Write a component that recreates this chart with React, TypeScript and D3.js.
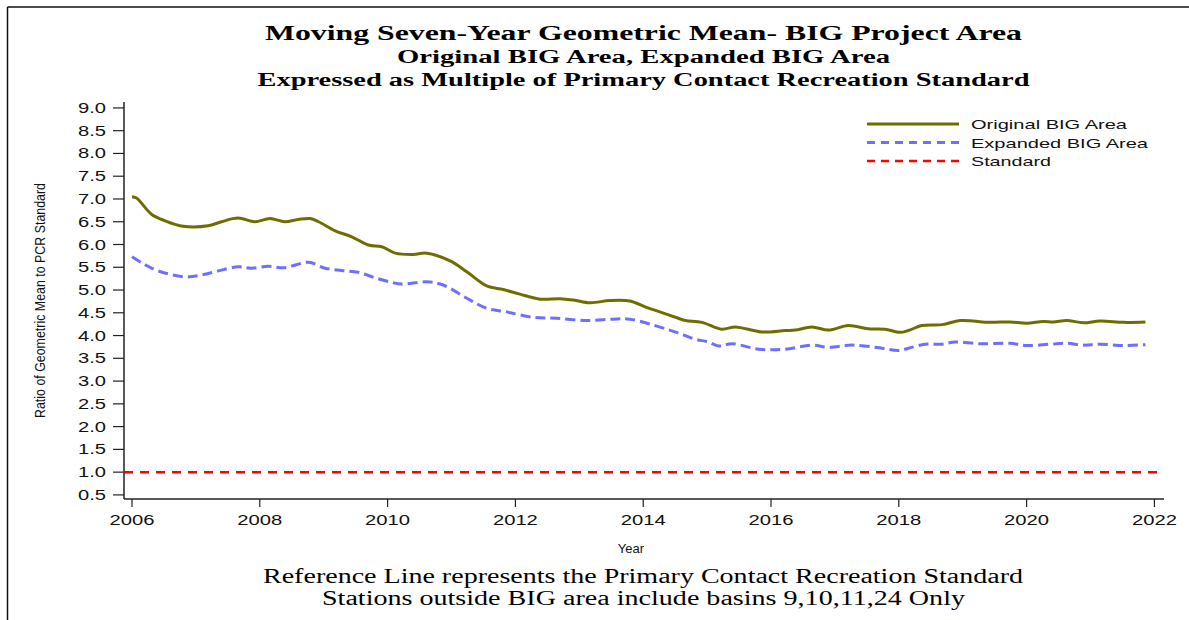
import React from "react";
import * as d3 from "d3";

const titleLines = [
  "Moving Seven-Year Geometric Mean- BIG Project Area",
  "Original BIG Area, Expanded BIG Area",
  "Expressed as Multiple of Primary Contact Recreation Standard",
];
const footerLines = [
  "Reference Line represents the Primary Contact Recreation Standard",
  "Stations outside BIG area include basins 9,10,11,24 Only",
];
const yTicks = [0.5, 1, 1.5, 2, 2.5, 3, 3.5, 4, 4.5, 5, 5.5, 6, 6.5, 7, 7.5, 8, 8.5, 9];
const xTicks = [2006, 2008, 2010, 2012, 2014, 2016, 2018, 2020, 2022];
const seriesNames = ["Original BIG Area", "Expanded BIG Area", "Standard"];
const standardValue = 1.0;

const originalYears = [
  2006.0, 2006.07, 2006.31, 2006.52, 2006.8, 2007.19, 2007.4, 2007.66, 2007.92, 2008.16,
  2008.39, 2008.6, 2008.79, 2008.92, 2009.18, 2009.44, 2009.7, 2009.91, 2010.12, 2010.4,
  2010.61, 2010.98, 2011.24, 2011.55, 2011.81, 2012.07, 2012.39, 2012.7, 2012.91, 2013.17,
  2013.48, 2013.79, 2014.05, 2014.26, 2014.55, 2014.66, 2014.92, 2015.23, 2015.44, 2015.85,
  2016.22, 2016.38, 2016.64, 2016.9, 2017.21, 2017.52, 2017.78, 2018.02, 2018.15, 2018.36,
  2018.68, 2018.96, 2019.43, 2019.74, 2020.0, 2020.26, 2020.42, 2020.63, 2020.89, 2021.15,
  2021.52, 2021.86,
];
const originalValues = [
  7.05, 7.02, 6.66, 6.52, 6.4, 6.41, 6.5, 6.58, 6.5, 6.57,
  6.5, 6.55, 6.57, 6.5, 6.3, 6.17, 5.99, 5.95, 5.81, 5.78,
  5.81, 5.64, 5.4, 5.09, 5.01, 4.91, 4.8, 4.81, 4.78, 4.72,
  4.77, 4.76, 4.62, 4.52, 4.38, 4.33, 4.29, 4.14, 4.19, 4.08,
  4.11, 4.12, 4.19, 4.12, 4.22, 4.15, 4.14, 4.07, 4.11, 4.22,
  4.24, 4.33, 4.29, 4.3, 4.27, 4.31, 4.3, 4.33, 4.28, 4.32,
  4.29, 4.3,
];
const expandedYears = [
  2006.0, 2006.2, 2006.41, 2006.83, 2007.09, 2007.35, 2007.66, 2007.87, 2008.13, 2008.39,
  2008.76, 2009.02, 2009.28, 2009.54, 2009.8, 2010.06, 2010.22, 2010.61, 2010.87, 2011.24,
  2011.55, 2011.86, 2012.28, 2012.65, 2013.12, 2013.53, 2013.79, 2014.16, 2014.52, 2014.81,
  2015.02, 2015.18, 2015.39, 2015.81, 2016.22, 2016.64, 2016.9, 2017.27, 2017.74, 2018.0,
  2018.15, 2018.41, 2018.68, 2018.88, 2019.27, 2019.74, 2020.0, 2020.37, 2020.63, 2020.89,
  2021.15, 2021.52, 2021.86,
];
const expandedValues = [
  5.73, 5.56, 5.42, 5.29, 5.33, 5.42, 5.51, 5.48, 5.52, 5.49,
  5.61, 5.48, 5.43, 5.39, 5.27, 5.17, 5.13, 5.18, 5.11, 4.82,
  4.6, 4.52, 4.4, 4.38, 4.33, 4.36, 4.36, 4.23, 4.07, 3.92,
  3.86, 3.77, 3.82, 3.7, 3.7, 3.79, 3.74, 3.79, 3.72, 3.67,
  3.72, 3.81, 3.81, 3.86, 3.82, 3.83, 3.78, 3.81, 3.83, 3.79,
  3.81, 3.78, 3.8,
];

const OLIVE = "#6e6e00";
const BLUE = "#6f6fff";
const RED = "#ff0000";
const SERIF = "'Liberation Serif', 'Times New Roman', serif";
const SANS = "'Liberation Sans', Arial, sans-serif";

export default function App() {
  const W = 1189;
  const H = 620;
  const x = d3.scaleLinear().domain([2005.875, 2022.15]).range([124, 1164]);
  const y = d3.scaleLinear().domain([0.41, 9.13]).range([499, 102]);
  const line = d3
    .line<[number, number]>()
    .x((d) => x(d[0]))
    .y((d) => y(d[1]))
    .curve(d3.curveCatmullRom.alpha(0.5));
  const orig = originalYears.map((t, i) => [t, originalValues[i]] as [number, number]);
  const exp = expandedYears.map((t, i) => [t, expandedValues[i]] as [number, number]);
  const [x0, x1] = x.range();
  const [yb, yt] = y.range();

  const titleSpecs = [
    { size: 21.5, y: 40, len: 757 },
    { size: 18.5, y: 63, len: 493 },
    { size: 18.5, y: 86, len: 772 },
  ];
  const footSpecs = [
    { x: 643, y: 583, len: 760 },
    { x: 643.5, y: 605, len: 643 },
  ];
  const legend = [
    { name: seriesNames[0], color: OLIVE, dash: undefined, w: 3, y: 124, len: 156 },
    { name: seriesNames[1], color: BLUE, dash: "8,6", w: 3, y: 142.5, len: 177 },
    { name: seriesNames[2], color: RED, dash: "8,6", w: 2.5, y: 161, len: 80 },
  ];

  return (
    <svg width={W} height={H} style={{ position: "absolute", left: 0, top: 0, background: "#fff" }}>
      <rect x={0} y={0} width={W} height={H} fill="#fff" />
      {/* frame */}
      <line x1={7.5} y1={7} x2={W} y2={7} stroke="#111" strokeWidth={1.5} />
      <line x1={7.5} y1={7} x2={7.5} y2={H} stroke="#111" strokeWidth={1.5} />

      {/* titles */}
      {titleLines.map((t, i) => (
        <text
          key={t}
          x={643.5}
          y={titleSpecs[i].y}
          textAnchor="middle"
          fontFamily={SERIF}
          fontWeight="bold"
          fontSize={titleSpecs[i].size}
          textLength={titleSpecs[i].len}
          lengthAdjust="spacingAndGlyphs"
          fill="#000"
        >
          {t}
        </text>
      ))}

      {/* y axis */}
      <line x1={x0} y1={yt} x2={x0} y2={yb} stroke="#222" strokeWidth={1.5} />
      {yTicks.map((v) => (
        <g key={v}>
          <line x1={x0 - 11} x2={x0} y1={y(v)} y2={y(v)} stroke="#222" strokeWidth={1.2} />
          <text
            x={106}
            y={y(v) + 5}
            textAnchor="end"
            fontFamily={SANS}
            fontSize={14}
            textLength={28}
            lengthAdjust="spacingAndGlyphs"
            fill="#111"
          >
            {v.toFixed(1)}
          </text>
        </g>
      ))}
      <text
        transform={`translate(44.5,300.5) rotate(-90)`}
        textAnchor="middle"
        fontFamily={SANS}
        fontSize={15.5}
        textLength={235}
        lengthAdjust="spacingAndGlyphs"
        fill="#111"
      >
        Ratio of Geometric Mean to PCR Standard
      </text>

      {/* x axis */}
      <line x1={x0} y1={yb} x2={x1} y2={yb} stroke="#222" strokeWidth={1.5} />
      {xTicks.map((t) => (
        <g key={t}>
          <line x1={x(t)} x2={x(t)} y1={yb} y2={yb + 8} stroke="#222" strokeWidth={1.2} />
          <text
            x={x(t)}
            y={525}
            textAnchor="middle"
            fontFamily={SANS}
            fontSize={14}
            textLength={45}
            lengthAdjust="spacingAndGlyphs"
            fill="#111"
          >
            {t}
          </text>
        </g>
      ))}
      <text x={631} y={553} textAnchor="middle" fontFamily={SANS} fontSize={13} fill="#111">
        Year
      </text>

      {/* standard reference line */}
      <line
        x1={x0}
        x2={x1}
        y1={y(standardValue)}
        y2={y(standardValue)}
        stroke={RED}
        strokeWidth={2.5}
        strokeDasharray="9,7"
      />
      {/* series */}
      <path d={line(exp) || ""} fill="none" stroke={BLUE} strokeWidth={3} strokeDasharray="10,5" />
      <path d={line(orig) || ""} fill="none" stroke={OLIVE} strokeWidth={3} />

      {/* legend */}
      {legend.map((l) => (
        <g key={l.name}>
          <line x1={867} x2={959} y1={l.y} y2={l.y} stroke={l.color} strokeWidth={l.w} strokeDasharray={l.dash} />
          <text
            x={971}
            y={l.y + 5}
            fontFamily={SANS}
            fontSize={13.5}
            textLength={l.len}
            lengthAdjust="spacingAndGlyphs"
            fill="#111"
          >
            {l.name}
          </text>
        </g>
      ))}

      {/* footer */}
      {footerLines.map((t, i) => (
        <text
          key={t}
          x={footSpecs[i].x}
          y={footSpecs[i].y}
          textAnchor="middle"
          fontFamily={SERIF}
          fontSize={20.5}
          textLength={footSpecs[i].len}
          lengthAdjust="spacingAndGlyphs"
          fill="#000"
        >
          {t}
        </text>
      ))}
    </svg>
  );
}
